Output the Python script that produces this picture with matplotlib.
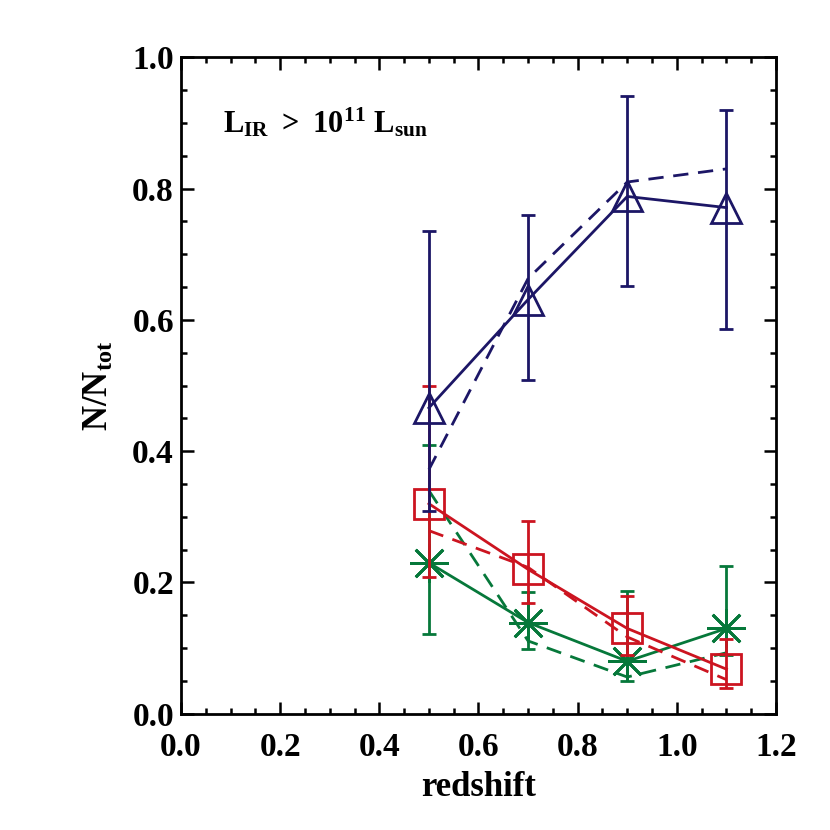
import numpy as np
import matplotlib
matplotlib.use('Agg')
import matplotlib.pyplot as plt
from matplotlib.ticker import MultipleLocator

# redshift bins
z = [0.5, 0.7, 0.9, 1.1]

# blue triangles (solid) + errors, dashed comparison
blue = [0.466, 0.631, 0.788, 0.771]
blue_hi = [0.735, 0.760, 0.941, 0.920]
blue_lo = [0.309, 0.509, 0.651, 0.586]
blue_dash = [0.372, 0.663, 0.810, 0.830]

# red squares
red = [0.320, 0.220, 0.130, 0.068]
red_hi = [0.500, 0.293, 0.180, 0.114]
red_lo = [0.209, 0.169, 0.089, 0.040]
red_dash = [0.279, 0.223, 0.117, 0.052]

# green asterisks
green = [0.230, 0.139, 0.080, 0.130]
green_hi = [0.410, 0.185, 0.187, 0.225]
green_lo = [0.121, 0.099, 0.050, 0.089]
green_dash = [0.340, 0.111, 0.056, 0.093]

cblue = '#1c1666'
cred = '#cc1420'
cgreen = '#06783a'

plt.rcParams['font.family'] = 'Liberation Serif'
plt.rcParams['font.weight'] = 'bold'
plt.rcParams['mathtext.fontset'] = 'custom'
plt.rcParams['mathtext.rm'] = 'Liberation Serif:bold'
plt.rcParams['mathtext.bf'] = 'Liberation Serif:bold'
plt.rcParams['mathtext.it'] = 'Liberation Serif:bold'

fig = plt.figure(figsize=(8.3, 8.3), dpi=100)
ax = fig.add_axes([0.218, 0.140, 0.717, 0.791])

lw = 2.0
ds = (5.5, 3.5)

def draw(y, lo, hi, yd, col, mk, ms):
    y = np.array(y)
    err = [y - np.array(lo), np.array(hi) - y]
    ax.errorbar(z, y, yerr=err, fmt='none', ecolor=col, elinewidth=lw, capsize=5, capthick=lw)
    ax.plot(z, yd, color=col, lw=lw, ls=(0, ds))
    ax.plot(z, y, color=col, lw=lw, marker=mk, ms=ms, mfc='none', mec=col, mew=lw)

draw(green, green_lo, green_hi, green_dash, cgreen, (8, 2, 0), 28)
draw(red, red_lo, red_hi, red_dash, cred, 's', 21)
draw(blue, blue_lo, blue_hi, blue_dash, cblue, '^', 22)

ax.set_xlim(0, 1.2)
ax.set_ylim(0, 1.0)
ax.xaxis.set_major_locator(MultipleLocator(0.2))
ax.xaxis.set_minor_locator(MultipleLocator(0.05))
ax.yaxis.set_major_locator(MultipleLocator(0.2))
ax.yaxis.set_minor_locator(MultipleLocator(0.05))
ax.xaxis.set_major_formatter(plt.FuncFormatter(lambda v, p: '%.1f' % v))
ax.yaxis.set_major_formatter(plt.FuncFormatter(lambda v, p: '%.1f' % v))
ax.tick_params(which='both', direction='in', top=True, right=True, width=1.8, labelsize=24)
ax.tick_params(which='major', length=9)
ax.tick_params(which='minor', length=4.5)
ax.tick_params(axis='x', pad=13)
ax.tick_params(axis='y', pad=5)
for s in ax.spines.values():
    s.set_linewidth(2)

ax.set_xlabel('redshift', fontsize=25, fontweight='bold', labelpad=6)
ax.set_ylabel(r'$\mathrm{N/N_{tot}}$', fontsize=25, labelpad=12)
ax.text(0.07, 0.885, r'$\mathrm{L_{IR}\ >\ 10^{11}\ L_{sun}}$', transform=ax.transAxes,
        fontsize=22)

fig.savefig('out.png', dpi=100)
